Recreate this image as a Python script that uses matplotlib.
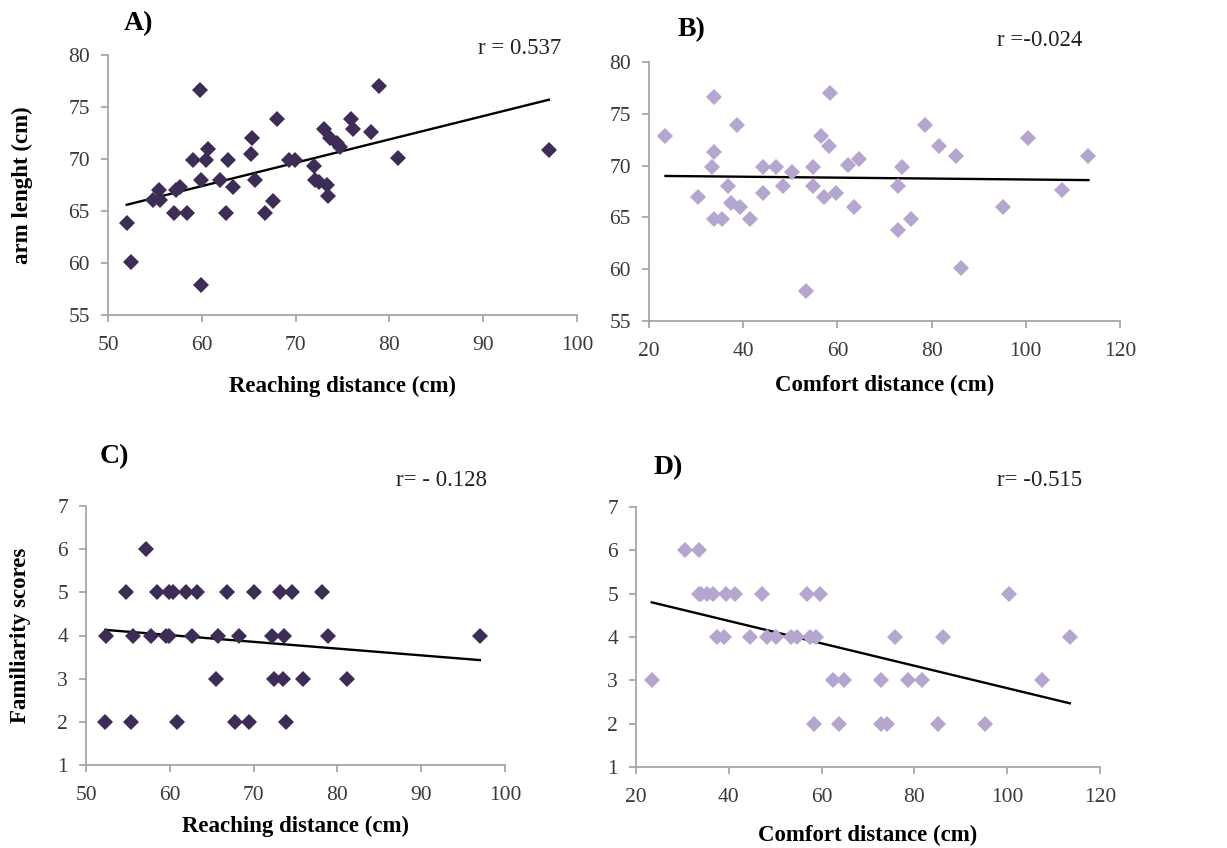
import matplotlib
matplotlib.use("Agg")
import matplotlib.pyplot as plt
import numpy as np

plt.rcParams['font.family'] = ['Liberation Serif', 'DejaVu Serif']

# A) reaching distance vs arm length
reach_a = [52.0, 52.4, 54.8, 55.4, 55.5, 57.0, 57.3, 57.7, 58.4, 59.1, 59.8, 59.9,
           59.9, 60.4, 60.7, 61.9, 62.6, 62.8, 63.3, 65.2, 65.4, 65.7, 66.7, 67.6,
           68.0, 69.3, 69.9, 72.0, 72.1, 72.5, 73.0, 73.3, 73.5, 73.7, 74.4, 74.7,
           75.9, 76.1, 78.0, 78.9, 80.9, 97.0]
arm_a = [63.8, 60.1, 66.1, 67.0, 66.1, 64.8, 67.0, 67.3, 64.8, 69.9, 76.6, 68.0,
         57.9, 69.9, 71.0, 68.0, 64.8, 69.9, 67.3, 70.5, 72.0, 68.0, 64.8, 66.0,
         73.8, 69.9, 69.9, 69.3, 68.0, 67.8, 72.9, 67.5, 66.4, 72.0, 71.5, 71.2,
         73.8, 72.9, 72.6, 77.0, 70.1, 70.9]
trend_a = [65.6, 75.7]

# B) comfort distance vs arm length
comfort_b = [23.5, 30.3, 33.7, 33.8, 33.4, 33.8, 35.4, 36.8, 37.5, 38.6, 39.4, 41.4,
             44.2, 44.2, 46.9, 48.5, 50.4, 53.4, 54.8, 54.8, 56.6, 57.1, 58.2, 58.5,
             59.8, 62.3, 63.6, 64.6, 72.9, 72.9, 73.8, 75.6, 78.6, 81.6, 85.1, 86.2,
             95.2, 100.4, 107.6, 113.3]
arm_b = [72.9, 67.0, 76.6, 71.3, 69.9, 64.8, 64.8, 68.0, 66.4, 73.9, 66.0, 64.8,
         69.9, 67.4, 69.9, 68.0, 69.4, 57.9, 69.9, 68.0, 72.9, 67.0, 71.9, 77.0,
         67.4, 70.1, 66.0, 70.6, 68.0, 63.8, 69.9, 64.8, 73.9, 71.9, 70.9, 60.1,
         66.0, 72.7, 67.6, 70.9]
trend_b = [69.0, 68.6]

# C) reaching distance vs familiarity
reach_c = [52.3, 52.4, 54.8, 55.4, 55.6, 57.2, 57.7, 58.5, 59.6, 59.9, 59.9, 60.4,
           60.9, 61.9, 62.6, 63.2, 65.5, 65.8, 66.8, 67.8, 68.2, 69.4, 70.0, 72.2,
           72.4, 73.2, 73.5, 73.6, 73.9, 74.6, 75.9, 78.2, 78.9, 81.1, 97.0]
fam_c = [2, 4, 5, 2, 4, 6, 4, 5, 4, 4, 5, 5,
         2, 5, 4, 5, 3, 4, 5, 2, 4, 2, 5, 4,
         3, 5, 3, 4, 2, 5, 3, 5, 4, 3, 4]
trend_c = [4.13, 3.43]

# D) comfort distance vs familiarity
comfort_d = [23.4, 30.6, 33.6, 33.6, 34.1, 35.2, 36.7, 37.5, 39.0, 39.5, 41.3, 44.6,
             47.2, 48.3, 50.2, 53.3, 54.8, 56.8, 57.4, 58.4, 58.8, 59.7, 62.4, 63.7,
             64.8, 72.9, 72.9, 74.0, 75.8, 78.7, 81.6, 85.0, 86.1, 95.2, 100.4,
             107.6, 113.5]
fam_d = [3, 6, 6, 5, 5, 5, 5, 4, 4, 5, 5, 4,
         5, 4, 4, 4, 4, 5, 4, 2, 4, 5, 3, 2,
         3, 3, 2, 2, 4, 3, 3, 2, 4, 2, 5,
         3, 4]
trend_d = [4.80, 2.47]

dark = '#3d2c55'
light = '#b5a6d0'
W, H = 1227, 848

fig = plt.figure(figsize=(W / 100, H / 100), dpi=100)


def box(l, t, r, b):
    return [l / W, 1 - b / H, (r - l) / W, (b - t) / H]


def panel(rect, x, y, trend, color, xlim, ylim, xticks, yticks, xlabel, ylabel, xpad, ypad=22):
    ax = fig.add_axes(box(*rect))
    ax.plot(x, y, linestyle='none', marker='D', markersize=8.3,
            color=color, markeredgewidth=0, zorder=3)
    ax.plot([min(x), max(x)], trend, color='black', lw=1.7, zorder=2)
    ax.set_xlim(*xlim)
    ax.set_ylim(*ylim)
    ax.set_xticks(xticks)
    ax.set_yticks(yticks)
    for s in ['top', 'right']:
        ax.spines[s].set_visible(False)
    for s in ['left', 'bottom']:
        ax.spines[s].set_color('#a0a0a0')
        ax.spines[s].set_linewidth(1.2)
    ax.tick_params(direction='out', length=5, width=1.2, color='#a0a0a0',
                   labelsize=15.5, labelcolor='#3a3a3a')
    ax.tick_params(axis='y', pad=8)
    ax.tick_params(axis='x', pad=10)
    ax.set_xlabel(xlabel, fontsize=16.5, fontweight='bold', labelpad=xpad)
    if ylabel:
        ax.set_ylabel(ylabel, fontsize=16.5, fontweight='bold', labelpad=ypad)
    return ax


panel((108, 55, 577, 315), reach_a, arm_a, trend_a, dark, (50, 100), (55, 80),
      range(50, 101, 10), range(55, 81, 5), 'Reaching distance (cm)', 'arm lenght (cm)', 15, 25)
panel((649, 62, 1120, 321), comfort_b, arm_b, trend_b, light, (20, 120), (55, 80),
      range(20, 121, 20), range(55, 81, 5), 'Comfort distance (cm)', None, 10)
panel((86, 506, 505, 765), reach_c, fam_c, trend_c, dark, (50, 100), (1, 7),
      range(50, 101, 10), range(1, 8), 'Reaching distance (cm)', 'Familiarity scores', 8, 19)
panel((636, 507, 1100, 767), comfort_d, fam_d, trend_d, light, (20, 120), (1, 7),
      range(20, 121, 20), range(1, 8), 'Comfort distance (cm)', None, 13)

for lab, px, py in [('A)', 139, 24), ('B)', 692, 30), ('C)', 114, 457), ('D)', 668, 468)]:
    fig.text(px / W, 1 - py / H, lab, fontsize=20, fontweight='bold',
             ha='center', va='center')

for lab, px, py in [('r = 0.537', 520, 48), ('r =-0.024', 1040, 40),
                    ('r= - 0.128', 441, 480), ('r= -0.515', 1040, 480)]:
    fig.text(px / W, 1 - py / H, lab, fontsize=16.5, ha='center', va='center',
             color='#222222')

fig.savefig('out.png', dpi=100)
